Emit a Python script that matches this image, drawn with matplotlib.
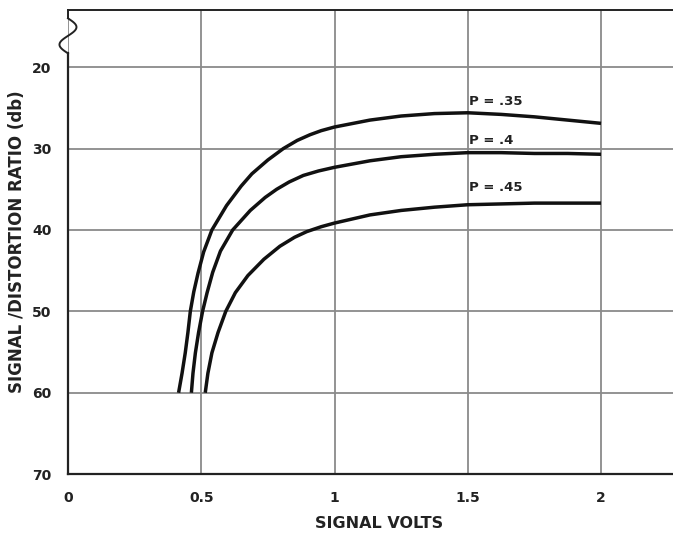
import numpy as np
import matplotlib.pyplot as plt

# curve values (signal volts, S/D ratio in db)
x35 = [0.415, 0.428, 0.440, 0.450, 0.459, 0.472, 0.488, 0.509, 0.54, 0.595, 0.65, 0.69, 0.75,
       0.808, 0.86, 0.908, 0.95, 1.0, 1.133, 1.25, 1.375, 1.5, 1.625, 1.75, 1.875, 2.0]
y35 = [60, 57.6, 55.1, 52.6, 50, 47.6, 45.3, 42.7, 40, 37.0, 34.6, 33.1, 31.4,
       30.0, 29.0, 28.3, 27.8, 27.35, 26.5, 26.0, 25.7, 25.6, 25.8, 26.1, 26.5, 26.9]
x40 = [0.463, 0.469, 0.478, 0.490, 0.505, 0.522, 0.543, 0.572, 0.618, 0.684, 0.74, 0.783,
       0.83, 0.883, 0.94, 1.0, 1.133, 1.25, 1.375, 1.5, 1.625, 1.75, 1.875, 2.0]
y40 = [60, 57.6, 55.1, 52.6, 50, 47.7, 45.2, 42.6, 40, 37.6, 36.0, 35.0,
       34.1, 33.3, 32.75, 32.3, 31.5, 31.0, 30.7, 30.5, 30.5, 30.6, 30.6, 30.7]
x45 = [0.515, 0.525, 0.540, 0.563, 0.592, 0.628, 0.675, 0.735, 0.795, 0.85, 0.896, 0.95,
       1.0, 1.133, 1.25, 1.375, 1.5, 1.625, 1.75, 1.875, 2.0]
y45 = [60, 57.6, 55.1, 52.6, 50, 47.7, 45.6, 43.6, 42.0, 40.9, 40.2, 39.6,
       39.15, 38.15, 37.6, 37.2, 36.9, 36.8, 36.7, 36.7, 36.7]
labels = ['P = .35', 'P = .4', 'P = .45']
label_y = [24.2, 29.0, 34.8]

xticks = [0, 0.5, 1, 1.5, 2]
xticklabels = ['0', '0.5', '1', '1.5', '2']
yticks = [20, 30, 40, 50, 60, 70]

fig = plt.figure(figsize=(6.73, 5.37), dpi=100)
ax = fig.add_axes([0.101, 0.117, 0.899, 0.864])

ax.set_xlim(0, 2.27)
ax.set_ylim(70, 13.0)

ax.set_xticks(xticks)
ax.set_xticklabels(xticklabels)
ax.set_yticks(yticks)
ax.tick_params(length=0, labelsize=10, pad=12, colors='#222222')
for t in ax.get_xticklabels() + ax.get_yticklabels():
    t.set_fontweight('bold')

ax.grid(True, color='#8a8a8a', lw=1.3)
ax.set_axisbelow(True)

for s in ['right', 'left']:
    ax.spines[s].set_visible(False)
ax.spines['top'].set_color('#222222')
ax.spines['bottom'].set_color('#222222')
ax.spines['top'].set_linewidth(1.4)
ax.spines['bottom'].set_linewidth(1.6)

# left axis line with the break squiggle at top
ax.plot([0, 0], [70, 18.3], color='#222222', lw=1.6, clip_on=False, zorder=4)
t = np.linspace(0, 1, 60)
sq_x = 8.5 * np.sin(2 * np.pi * t) / 266.5
sq_y = 14.0 + t * (18.3 - 14.0)
ax.plot(sq_x, sq_y, color='#222222', lw=1.4, clip_on=False, zorder=4)
ax.plot([0, 0], [14.0, 13.0], color='#222222', lw=1.4, clip_on=False, zorder=4)

for xs, ys in [(x35, y35), (x40, y40), (x45, y45)]:
    ax.plot(xs, ys, color='#111111', lw=2.5, solid_capstyle='butt',
            solid_joinstyle='round')

for lab, ly in zip(labels, label_y):
    ax.text(1.505, ly, lab, fontsize=9.5, fontweight='bold', color='#222222',
            va='center', ha='left')

ax.set_xlabel('SIGNAL VOLTS', fontsize=11.5, fontweight='bold', color='#222222')
ax.xaxis.set_label_coords(0.515, -0.09)
ax.set_ylabel('SIGNAL /DISTORTION RATIO (db)', fontsize=12, fontweight='bold',
              color='#222222')
ax.yaxis.set_label_coords(-0.069, 0.5)

fig.savefig('out.png', dpi=100)
